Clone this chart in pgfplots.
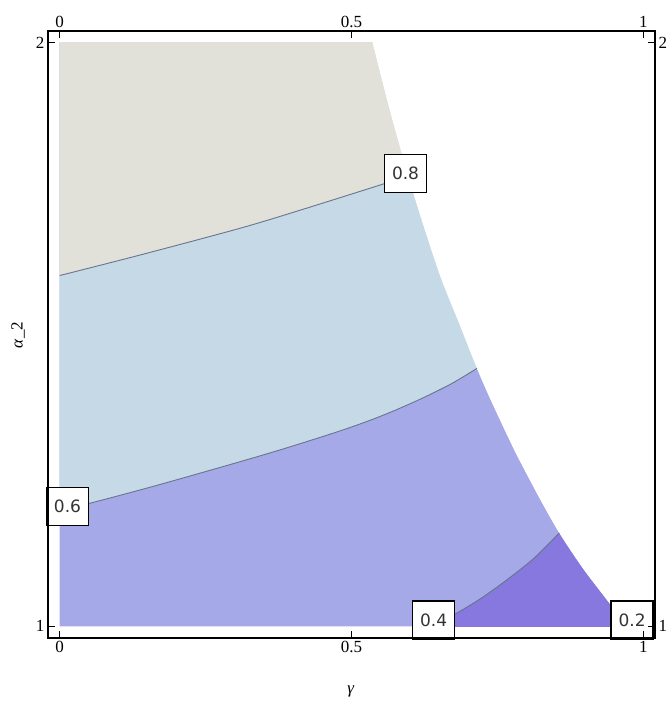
\documentclass[border=0pt]{standalone}
\usepackage{fontspec}
\setmainfont{Liberation Serif}
\newfontfamily\labfont{DejaVu Sans}
\usepackage{pgfplots}
\pgfplotsset{compat=1.18}
\definecolor{cA}{RGB}{225,225,218}
\definecolor{cB}{RGB}{197,217,231}
\definecolor{cC}{RGB}{166,169,232}
\definecolor{cD}{RGB}{134,120,222}
\definecolor{cline}{RGB}{105,115,140}
\begin{document}
\begin{tikzpicture}[x=1pt,y=1pt]
\path[use as bounding box] (0,0) rectangle (669,703);
% content axis: exactly the data rectangle, clipped
\begin{axis}[
  at={(59.67pt,76.67pt)}, anchor=south west,
  scale only axis, width=583.65pt, height=583.65pt,
  xmin=0,xmax=1,ymin=1,ymax=2, hide axis, clip mode=individual]
\addplot[fill=cC, draw=none] coordinates {(0,1) (0.973,1.0) (0.934,1.05) (0.896,1.10) (0.856,1.16) (0.822,1.22) (0.780,1.30) (0.739,1.387) (0.715,1.442) (0.684,1.52) (0.652,1.60) (0.619,1.70) (0.597,1.772) (0.575,1.85) (0.5615,1.9) (0.536,2) (0,2)} --cycle;
\addplot[fill=cB, draw=none, smooth] coordinates {(0,1.2) (0.048,1.21) (0.15,1.237) (0.253,1.266) (0.37,1.3) (0.481,1.335) (0.55,1.36) (0.613,1.387) (0.67,1.415) (0.715,1.442)} -- (axis cs:0.684,1.52) -- (axis cs:0.652,1.60) -- (axis cs:0.619,1.70) -- (axis cs:0.597,1.772) -- (axis cs:0.575,1.85) -- (axis cs:0.5615,1.9) -- (axis cs:0.536,2) -- (axis cs:0.536,2.1) -- (axis cs:-0.1,2.1) -- (axis cs:-0.1,1.2) -- cycle;
\addplot[fill=cA, draw=none, smooth] coordinates {(0,1.601) (0.137,1.636) (0.309,1.682) (0.412,1.713) (0.555,1.758) (0.597,1.772)} -- (axis cs:0.575,1.85) -- (axis cs:0.5615,1.9) -- (axis cs:0.536,2) -- (axis cs:0.536,2.1) -- (axis cs:-0.1,2.1) -- (axis cs:-0.1,1.601) -- cycle;
\addplot[fill=cD, draw=none, smooth] coordinates {(0.635,1) (0.679,1.022) (0.722,1.048) (0.768,1.081) (0.813,1.117) (0.856,1.16)} -- (axis cs:0.896,1.10) -- (axis cs:0.934,1.05) -- (axis cs:0.973,1.0) -- (axis cs:0.973,0.9) -- (axis cs:0.635,0.9) -- cycle;
\addplot[fill=white, draw=none, smooth] coordinates {(0.536,2) (0.5615,1.9) (0.575,1.85) (0.597,1.772) (0.619,1.70) (0.652,1.60) (0.684,1.52) (0.715,1.442) (0.739,1.387) (0.780,1.30) (0.822,1.22) (0.856,1.16) (0.896,1.10) (0.934,1.05) (0.973,1.0)} -- (axis cs:1.1,0.9) -- (axis cs:1.1,2.1) -- (axis cs:0.536,2.1) -- cycle;
\addplot[cline, line width=0.9pt, smooth] coordinates {(0,1.601) (0.137,1.636) (0.309,1.682) (0.412,1.713) (0.555,1.758) (0.597,1.772)};
\addplot[cline, line width=0.9pt, smooth] coordinates {(0,1.2) (0.048,1.21) (0.15,1.237) (0.253,1.266) (0.37,1.3) (0.481,1.335) (0.55,1.36) (0.613,1.387) (0.67,1.415) (0.715,1.442)};
\addplot[cline, line width=0.9pt, smooth] coordinates {(0.635,1) (0.679,1.022) (0.722,1.048) (0.768,1.081) (0.813,1.117) (0.856,1.16)};
\tikzset{clab/.style={draw=black, line width=1.6pt, fill=white, minimum width=42pt, minimum height=38pt, inner sep=0pt, font=\labfont\fontsize{17}{17}\selectfont, text=black!80}}
\node[clab] at (axis cs:0.5926,1.7758) {0.8};
\node[clab] at (axis cs:0.0134,1.2052) {0.6};
\node[clab] at (axis cs:0.6406,1.0107) {0.4};
\node[clab] at (axis cs:0.9807,1.0107) {0.2};
\end{axis}
\pgfplotsset{myax/.style={
  at={(48pt,65pt)}, anchor=south west,
  scale only axis, width=607pt, height=607pt,
  xmin=-0.02,xmax=1.02,ymin=0.98,ymax=2.02,
  axis line style={line width=1.3pt},
  xtick={0,0.5,1}, ytick={1,2},
  xticklabels={0,0.5,1}, yticklabels={1,2},
  tick align=inside, major tick length=7pt,
  tick style={line width=0.9pt, black},
  ticklabel style={font=\fontsize{17}{17}\selectfont},
  /pgf/number format/assume math mode=true,
}}
\begin{axis}[myax]
\end{axis}
\begin{axis}[myax, xticklabel pos=top, yticklabel pos=right]
\end{axis}
\node[font=\fontsize{17}{17}\selectfont] at (351,12) {\textit{γ}};
\node[font=\fontsize{17}{17}\selectfont, rotate=90] at (18,368) {\textit{α}\_2};
\end{tikzpicture}
\end{document}
